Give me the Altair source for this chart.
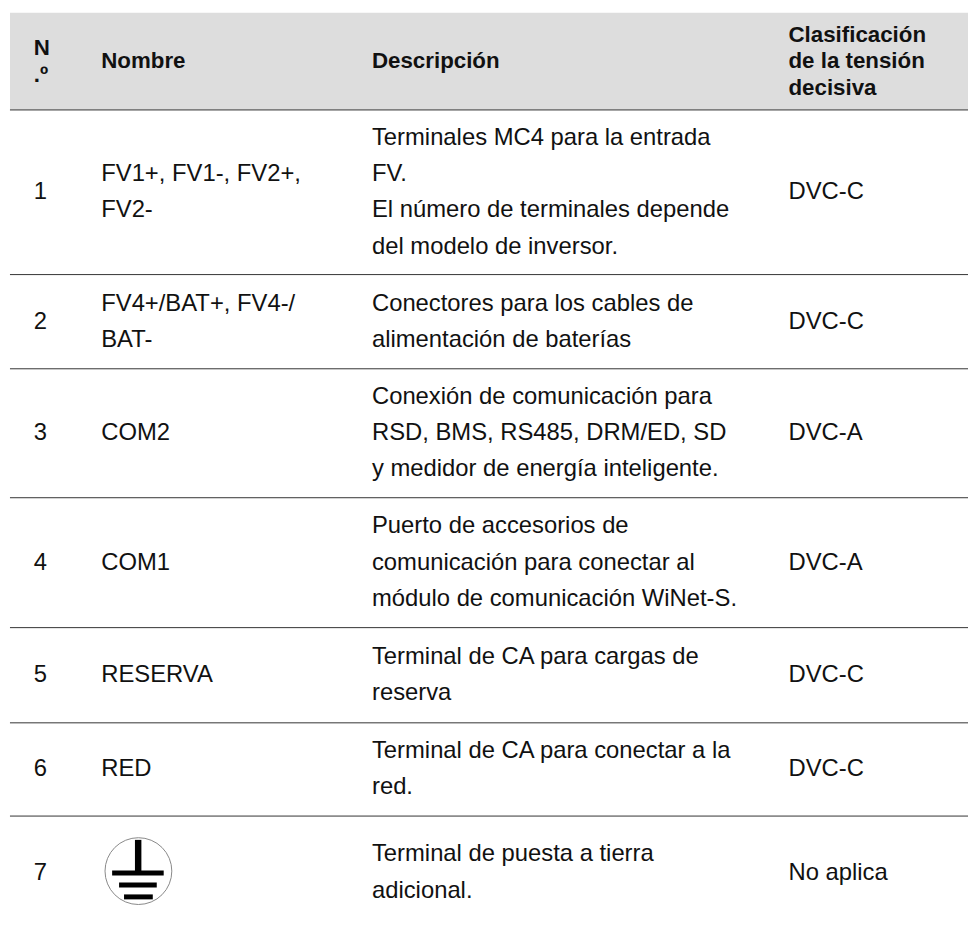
import altair as alt
import pandas as pd

# ---- table content ----
HEADERS = [["N", ".º"], ["Nombre"], ["Descripción"], ["Clasificación", "de la tensión", "decisiva"]]
NUMBERS = ["1", "2", "3", "4", "5", "6", "7"]
NAMES = [["FV1+, FV1-, FV2+,", "FV2-"], ["FV4+/BAT+, FV4-/", "BAT-"], ["COM2"], ["COM1"], ["RESERVA"], ["RED"], []]
DESCRIPTIONS = [
    ["Terminales MC4 para la entrada", "FV.", "El número de terminales depende", "del modelo de inversor."],
    ["Conectores para los cables de", "alimentación de baterías"],
    ["Conexión de comunicación para", "RSD, BMS, RS485, DRM/ED, SD", "y medidor de energía inteligente."],
    ["Puerto de accesorios de", "comunicación para conectar al", "módulo de comunicación WiNet-S."],
    ["Terminal de CA para cargas de", "reserva"],
    ["Terminal de CA para conectar a la", "red."],
    ["Terminal de puesta a tierra", "adicional."],
]
CLASSES = ["DVC-C", "DVC-C", "DVC-A", "DVC-A", "DVC-C", "DVC-C", "No aplica"]

# ---- layout (page pixels) ----
W, H = 976, 928
COLS = ["num", "name", "desc", "cls"]
COL_X = [34, 102, 375, 795]
LEFT, RIGHT = 10, 976
HEAD_TOP, HEAD_BOTTOM = 9, 107
ROW_EDGES = [107, 273, 368, 498, 629, 725, 819, 933]
LH_HEAD, LH = 27, 36.5
FONT, FONT_HEAD = 24, 22.5

xs = alt.Scale(domain=[8, W], range=[0, W - 8], nice=False, zero=False)
ys = alt.Scale(domain=[8, H - 8], range=[0, H - 16], nice=False, zero=False)
X = lambda f: alt.X(f, type="quantitative", scale=xs, axis=None)
Y = lambda f: alt.Y(f, type="quantitative", scale=ys, axis=None)

rows = []
def add(col, lines, center, lh, bold):
    for i, t in enumerate(lines):
        rows.append(dict(x=COL_X[COLS.index(col)], y=center + (i - (len(lines) - 1) / 2) * lh, t=t, bold=bold))

hc = (HEAD_TOP + HEAD_BOTTOM) / 2
for c, h in zip(COLS, HEADERS):
    add(c, h, hc, LH_HEAD, True)
for i in range(7):
    cy = (ROW_EDGES[i] + ROW_EDGES[i + 1]) / 2
    add("num", [NUMBERS[i]], cy, LH, False)
    add("name", NAMES[i], cy, LH, False)
    add("desc", DESCRIPTIONS[i], cy, LH, False)
    add("cls", [CLASSES[i]], cy, LH, False)
df = pd.DataFrame(rows)

header = alt.Chart(pd.DataFrame({"x": [LEFT], "x2": [RIGHT], "y": [HEAD_TOP], "y2": [HEAD_BOTTOM]})).mark_rect(color="#dddddd").encode(
    x=X("x"), x2="x2", y=Y("y"), y2="y2")
lines = alt.Chart(pd.DataFrame({"y": ROW_EDGES[:-1], "x": LEFT, "x2": RIGHT})).mark_rule(color="#333333", strokeWidth=1).encode(
    x=X("x"), x2="x2", y=Y("y"))
def text(bold):
    return alt.Chart(df[df.bold == bold]).mark_text(
        align="left", baseline="middle", font="Liberation Sans", fontSize=FONT_HEAD if bold else FONT,
        fontWeight="bold" if bold else "normal", color="#111111").encode(x=X("x"), y=Y("y"), text="t:N")

# earth symbol
SYM_CX, SYM_CY, SYM_R = 139.5, 874.5, 38
circle = alt.Chart(pd.DataFrame({"x": [SYM_CX], "y": [SYM_CY]})).mark_point(
    shape="circle", size=3.14159 * SYM_R ** 2, filled=False, color="#888888", strokeWidth=1, opacity=1).encode(x=X("x"), y=Y("y"))
bars = pd.DataFrame({"x": [136, 113, 120, 125],
                     "x2": [142.5, 165, 158, 154],
                     "y": [843, 874, 886, 898], "y2": [876, 879, 891, 903]})
glyph = alt.Chart(bars).mark_rect(color="#000000").encode(x=X("x"), x2="x2", y=Y("y"), y2="y2")

chart = (header + lines + text(True) + text(False) + circle + glyph).properties(
    width=W - 8, height=H - 16, padding=0, background="#ffffff",
    autosize=alt.AutoSizeParams(type="none")
).configure_view(stroke=None)
chart.save("out.html", embed_options={"renderer": "svg", "actions": False})
